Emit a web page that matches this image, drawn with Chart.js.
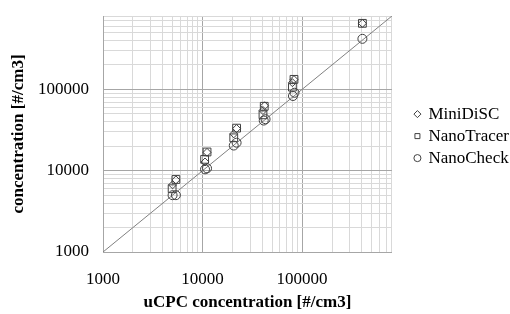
<!DOCTYPE html>
<html>
<head>
<meta charset="utf-8">
<script src="https://cdn.jsdelivr.net/npm/chart.js@4/dist/chart.umd.min.js"></script>
<style>
    html, body { margin: 0; padding: 0; background: #fff; }
    #wrap { width: 510px; height: 314px; }
</style>
</head>
<body>
<div id="wrap"><canvas id="concChart" width="510" height="314"></canvas></div>
<script>
// readings: uCPC concentration (x) vs instrument concentration (y), #/cm3
const miniDiscX = [5000, 5400, 10600, 11100, 20600, 22000, 40500, 42000, 80000, 83000, 404000];
const miniDiscY = [6700, 7700, 12800, 16800, 28400, 33000, 55000, 63000, 121000, 132000, 650000];
const nanoTracerX = [4950, 5400, 10500, 11100, 20600, 22000, 40500, 41700, 80000, 83000, 404000];
const nanoTracerY = [6000, 7800, 13800, 17000, 25400, 33400, 48700, 62000, 106700, 133000, 650000];
const nanoCheckX = [5000, 5400, 10600, 11100, 20600, 22000, 41200, 43000, 81000, 84000, 404000];
const nanoCheckY = [5000, 5000, 10400, 10700, 20400, 22100, 41400, 43000, 83000, 91000, 419000];

// 1:1 reference line ends
const oneToOne = [1000, 800000];

const axisMin = 1000;
const axisMax = 800000;
const labelledTicks = [1000, 10000, 100000];
const gridTicks = [1000, 2000, 3000, 4000, 5000, 6000, 7000, 8000, 9000,
    10000, 20000, 30000, 40000, 50000, 60000, 70000, 80000, 90000,
    100000, 200000, 300000, 400000, 500000, 600000, 700000, 800000];

const serif = "'Liberation Serif', 'Times New Roman', serif";

function toPoints(xs, ys) {
    return xs.map((x, i) => ({ x: x, y: ys[i] }));
}

function gridColor(ctx) {
    if (ctx.tick && labelledTicks.includes(ctx.tick.value)) {
        return '#a6a6a6';
    }
    return '#d9d9d9';
}

function logAxis(title, tickPad, fitBox) {
    return {
        type: 'logarithmic',
        min: axisMin,
        max: axisMax,
        afterBuildTicks: function (axis) {
            axis.ticks = gridTicks.map(v => ({ value: v }));
        },
        afterFit: fitBox,
        ticks: {
            autoSkip: false,
            maxRotation: 0,
            color: '#000000',
            padding: tickPad,
            font: { family: serif, size: 17 },
            callback: function (value) {
                return labelledTicks.includes(value) ? String(value) : '';
            }
        },
        grid: {
            color: gridColor,
            lineWidth: 1,
            drawTicks: false
        },
        border: {
            color: '#a6a6a6'
        },
        title: {
            display: true,
            text: title,
            color: '#000000',
            padding: { top: 4, bottom: 1 },
            font: { family: serif, size: 17, weight: 'bold' }
        }
    };
}

// leave a blank strip between the plot and the legend
const legendNudge = {
    id: 'legendNudge',
    afterLayout: function (chart) {
        const shift = 18;
        chart.legend.left += shift;
        chart.legend.right += shift;
    }
};

const markerStyle = {
    borderColor: '#404040',
    backgroundColor: 'rgba(0,0,0,0)',
    borderWidth: 1
};

const ctx = document.getElementById('concChart').getContext('2d');
const concChart = new Chart(ctx, {
    type: 'scatter',
    data: {
        datasets: [
            Object.assign({
                label: 'MiniDiSC',
                data: toPoints(miniDiscX, miniDiscY),
                pointStyle: 'rectRot',
                pointRadius: 4
            }, markerStyle),
            Object.assign({
                label: 'NanoTracer',
                data: toPoints(nanoTracerX, nanoTracerY),
                pointStyle: 'rect',
                pointRadius: 5.5
            }, markerStyle),
            Object.assign({
                label: 'NanoCheck',
                data: toPoints(nanoCheckX, nanoCheckY),
                pointStyle: 'circle',
                pointRadius: 4.5
            }, markerStyle),
            {
                type: 'line',
                label: '',
                data: toPoints(oneToOne, oneToOne),
                borderColor: '#808080',
                borderWidth: 1,
                pointRadius: 0,
                fill: false
            }
        ]
    },
    options: {
        responsive: false,
        animation: false,
        layout: {
            padding: { left: 4, right: 9, top: 16, bottom: 0 }
        },
        scales: {
            x: logAxis('uCPC concentration [#/cm3]', 17, function (s) {
                s.height = 62;
                s.paddingLeft = 0;
                s.paddingRight = 0;
            }),
            y: logAxis('concentration [#/cm3]', 14, function (s) {
                s.width = 99;
                s.paddingTop = 0;
                s.paddingBottom = 0;
            })
        },
        plugins: {
            legend: {
                position: 'right',
                fullSize: false,
                title: {
                    display: true,
                    text: '',
                    padding: { top: 3, bottom: 0 },
                    font: { size: 1 }
                },
                labels: {
                    usePointStyle: true,
                    boxWidth: 5,
                    boxHeight: 5,
                    padding: 5,
                    color: '#000000',
                    font: { family: serif, size: 17 },
                    filter: item => item.text !== ''
                }
            },
            tooltip: { enabled: false }
        }
    },
    plugins: [legendNudge]
});
</script>
</body>
</html>
